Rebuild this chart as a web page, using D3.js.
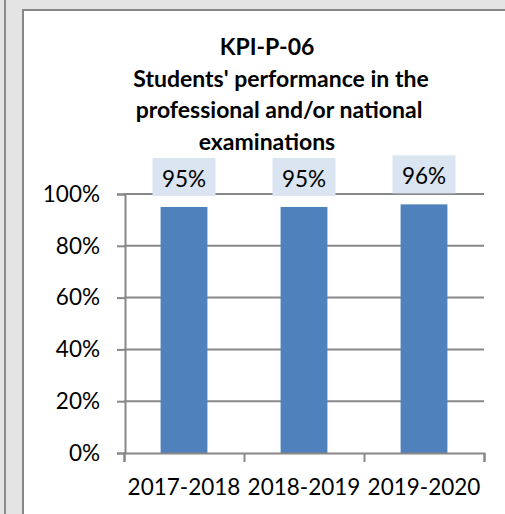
<!doctype html>
<html lang="en">
<head>
    <meta charset="UTF-8">
    <title>KPI-P-06</title>
    <style>
        html, body { margin: 0; padding: 0; background: #e4e4e4; }
        svg { display: block; }
        text { font-family: Lato, 'Open Sans', sans-serif; fill: #000; }
    </style>
</head>
<body>
<div id="chart"></div>

<script src="https://cdn.jsdelivr.net/npm/d3@7"></script>
<script>

    const titleLines = ['KPI-P-06', "Students' performance in the", 'professional and/or national', 'examinations']
    const years = ['2017-2018', '2018-2019', '2019-2020']
    const values = [0.95, 0.95, 0.96]
    const yTicks = [0, 0.2, 0.4, 0.6, 0.8, 1]

    const W = 505, H = 514
    // plot area
    const plotLeft = 124, plotRight = 484, plotTop = 194, plotBottom = 453
    // title line centres, the wrapped lines are not all centred the same
    const titleX = [267, 281, 279, 267]

    var svg = d3.select('#chart')
        .append('svg')
            .attr('width', W)
            .attr('height', H)

    // window frame + chart panel
    svg.append('rect')
        .attr('x', 0).attr('y', 0).attr('width', W).attr('height', H)
        .attr('fill', '#e4e4e4')
    svg.append('line')
        .attr('x1', 5).attr('x2', 5).attr('y1', 0).attr('y2', H)
        .attr('stroke', '#8c8c8c').attr('stroke-width', 2)
    svg.append('rect')
        .attr('x', 23).attr('y', 10).attr('width', W + 20).attr('height', H + 20)
        .attr('fill', '#fff')
        .attr('stroke', '#878787')
        .attr('stroke-width', 2)

    // title
    svg.append('g')
        .selectAll('text')
        .data(titleLines)
        .enter()
        .append('text')
            .attr('x', (d, i) => titleX[i])
            .attr('y', (d, i) => 55 + i * 31.7)
            .attr('text-anchor', 'middle')
            .style('font-size', '23px')
            .style('font-weight', 'bold')
            .text(d => d)

    var xScale = d3.scaleBand()
        .domain(years)
        .range([plotLeft, plotRight])
        .paddingInner(0.61)
        .paddingOuter(0.305)

    var yScale = d3.scaleLinear()
        .domain([0, 1])
        .range([plotBottom, plotTop])

    // gridlines
    svg.append('g')
        .selectAll('line')
        .data(yTicks.slice(1))
        .enter()
        .append('line')
            .attr('x1', plotLeft).attr('x2', plotRight)
            .attr('y1', d => yScale(d)).attr('y2', d => yScale(d))
            .attr('stroke', '#888').attr('stroke-width', 2)

    // y axis
    var yAxis = d3.axisLeft(yScale)
        .tickValues(yTicks)
        .tickFormat(d3.format('.0%'))
        .tickSize(8)
        .tickPadding(17)
    var gy = svg.append('g')
        .attr('transform', 'translate(' + (plotLeft + 1) + ',0)')
        .call(yAxis)
    gy.select('.domain').attr('stroke', '#888').attr('stroke-width', 2)
    gy.selectAll('.tick line').attr('stroke', '#888').attr('stroke-width', 2)
    gy.selectAll('.tick text')
        .style('font-size', '22.5px')
        .style('font-family', 'Lato, sans-serif')
        .attr('fill', '#000')

    // bars
    svg.append('g')
        .selectAll('rect')
        .data(years)
        .enter()
        .append('rect')
            .attr('x', d => xScale(d))
            .attr('y', (d, i) => yScale(values[i]))
            .attr('width', xScale.bandwidth())
            .attr('height', (d, i) => plotBottom - yScale(values[i]))
            .attr('fill', '#4f81bd')

    // x axis
    var xAxis = d3.axisBottom(d3.scaleLinear().domain([0, 3]).range([plotLeft, plotRight]))
        .tickValues([0, 1, 2, 3])
        .tickFormat('')
        .tickSize(9)
    var gx = svg.append('g')
        .attr('transform', 'translate(0,' + plotBottom + ')')
        .call(xAxis)
    gx.select('.domain').attr('stroke', '#888').attr('stroke-width', 2)
    gx.selectAll('.tick line').attr('stroke', '#888').attr('stroke-width', 2)

    svg.append('g')
        .selectAll('text')
        .data(years)
        .enter()
        .append('text')
            .attr('x', d => xScale(d) + xScale.bandwidth() / 2)
            .attr('y', 495)
            .attr('text-anchor', 'middle')
            .style('font-size', '22.5px')
            .text(d => d)

    // data labels with boxes
    var labels = svg.append('g')
        .selectAll('g')
        .data(years)
        .enter()
        .append('g')
            .attr('transform', (d, i) => 'translate(' + (xScale(d) + xScale.bandwidth() / 2) + ',' + (yScale(values[i]) - 11) + ')')
    labels.append('rect')
        .attr('x', -31.5).attr('y', -38)
        .attr('width', 63).attr('height', 38)
        .attr('fill', '#dbe5f1')
    labels.append('text')
        .attr('y', -9)
        .attr('text-anchor', 'middle')
        .style('font-size', '22.5px')
        .text((d, i) => d3.format('.0%')(values[i]))

</script>
</body>
</html>
